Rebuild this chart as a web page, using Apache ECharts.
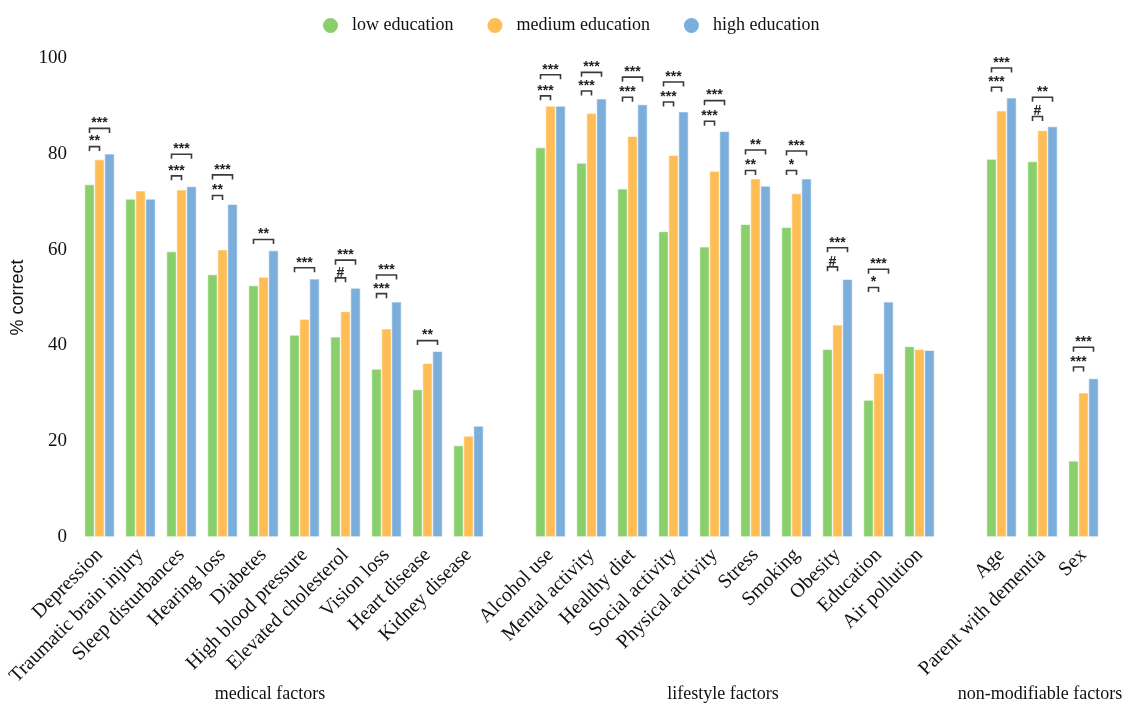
<!DOCTYPE html>
<html>
<head>
<meta charset="utf-8">
<script src="https://cdn.jsdelivr.net/npm/echarts@6/dist/echarts.min.js"></script>
<style>html,body{margin:0;padding:0;background:#fff;}#c{width:1129px;height:707px;}</style>
</head>
<body>
<div id="c"></div>
<script>
const categories = ['Depression','Traumatic brain injury','Sleep disturbances','Hearing loss','Diabetes','High blood pressure','Elevated cholesterol','Vision loss','Heart disease','Kidney disease',
  ' ',
  'Alcohol use','Mental activity','Healthy diet','Social activity','Physical activity','Stress','Smoking','Obesity','Education','Air pollution',
  '  ',
  'Age','Parent with dementia','Sex'];
const lowEdu =    [73.6,70.6,59.6,54.8,52.5,42.2,41.8,35.1,30.8,19.1,'-',81.3,78.1,72.7,63.8,60.6,65.3,64.7,39.2,28.6,39.8,'-',78.9,78.4,15.9];
const mediumEdu = [78.8,72.3,72.5,60.0,54.3,45.5,47.1,43.5,36.3,21.1,'-',90.0,88.5,83.7,79.7,76.4,74.8,71.7,44.3,34.2,39.2,'-',89.0,84.9,30.1];
const highEdu =   [80.0,70.6,73.2,69.5,59.8,53.9,52.0,49.1,38.8,23.2,'-',90.0,91.5,90.3,88.8,84.7,73.3,74.8,53.8,49.1,39.0,'-',91.7,85.7,33.1];
const yTicks = [0,20,40,60,80,100];
const groupTitles = ['medical factors','lifestyle factors','non-modifiable factors'];

// significance brackets: category, pair (lm = low-medium, lh = low-high), level, label
const bracketCats =   ['Depression','Depression','Sleep disturbances','Sleep disturbances','Hearing loss','Hearing loss','Diabetes','High blood pressure','Elevated cholesterol','Elevated cholesterol','Vision loss','Vision loss','Heart disease',
  'Alcohol use','Alcohol use','Mental activity','Mental activity','Healthy diet','Healthy diet','Social activity','Social activity','Physical activity','Physical activity','Stress','Stress','Smoking','Smoking','Obesity','Obesity','Education','Education',
  'Age','Age','Parent with dementia','Parent with dementia','Sex','Sex'];
const bracketPairs =  ['lm','lh','lm','lh','lm','lh','lh','lh','lm','lh','lm','lh','lh',
  'lm','lh','lm','lh','lm','lh','lm','lh','lm','lh','lm','lh','lm','lh','lm','lh','lm','lh',
  'lm','lh','lm','lh','lm','lh'];
const bracketLevels = [81.5,85.3,75.4,79.9,71.3,75.6,62.1,56.2,54.1,57.8,50.8,54.7,41.0,
  92.1,96.5,93.1,97.0,91.8,96.0,90.8,95.0,86.8,91.1,76.5,80.8,76.5,80.6,56.4,60.4,52.1,55.9,
  93.9,97.9,87.8,91.8,35.5,39.6];
const bracketLabels = ['**','***','***','***','**','***','**','***','#','***','***','***','**',
  '***','***','***','***','***','***','***','***','***','***','**','**','*','***','#','***','*','***',
  '***','***','#','**','***','***'];

const BAR_W = 10;
const chart = echarts.init(document.getElementById('c'), null, {renderer:'canvas'});
const serif = '"Liberation Serif", "Times New Roman", serif';

function renderBracket(params, api) {
  const i = params.dataIndex;
  const c = api.coord([api.value(0), api.value(1)]);
  const x1 = c[0] - BAR_W;
  const x2 = c[0] + (bracketPairs[i] === 'lh' ? BAR_W : 0);
  const y = c[1];
  const t = 4.5;
  return {
    type: 'group',
    children: [
      {type:'polyline', shape:{points:[[x1,y+t],[x1,y],[x2,y],[x2,y+t]]}, style:{stroke:'#3a3a3a', lineWidth:1.6, fill:null}},
      {type:'text', style:{text: bracketLabels[i], x:(x1+x2)/2, y:y+2, align:'center', verticalAlign:'bottom', font:'bold 14px "Liberation Sans"', fill:'#222'}}
    ]
  };
}

const option = {
  backgroundColor: '#fff',
  animation: false,
  legend: {
    data: ['low education','medium education','high education'],
    top: 11, left: 316,
    icon: 'circle', itemWidth: 17, itemHeight: 17, itemGap: 32,
    textStyle: {fontFamily: serif, fontSize: 18, color: '#111', padding: [0,0,0,8]}
  },
  grid: {left: 79, right: 25, top: 58, bottom: 170},
  xAxis: {
    type: 'category',
    data: categories,
    axisLine: {show: false},
    axisTick: {show: false},
    axisLabel: {interval: 0, rotate: 45, margin: 15, fontFamily: serif, fontSize: 20, color: '#111'}
  },
  yAxis: {
    type: 'value', min: 0, max: 100, interval: 20,
    name: '% correct', nameLocation: 'middle', nameGap: 52,
    nameTextStyle: {fontFamily: '"Liberation Sans", Arial, sans-serif', fontSize: 18, color: '#111'},
    axisLine: {show: false}, axisTick: {show: false}, splitLine: {show: false},
    axisLabel: {fontFamily: serif, fontSize: 19, color: '#111', margin: 12,
      formatter: v => yTicks.includes(v) ? String(v) : ''}
  },
  graphic: [
    {type:'text', style:{text: groupTitles[0], x: 270, y: 694, align:'center', verticalAlign:'middle', font:'18px ' + serif, fill:'#111'}},
    {type:'text', style:{text: groupTitles[1], x: 723, y: 694, align:'center', verticalAlign:'middle', font:'18px ' + serif, fill:'#111'}},
    {type:'text', style:{text: groupTitles[2], x: 1040, y: 694, align:'center', verticalAlign:'middle', font:'18px ' + serif, fill:'#111'}}
  ],
  series: [
    {name:'low education', type:'bar', data: lowEdu, barWidth: BAR_W, barGap: '0%', itemStyle:{color:'#89CF6C', borderColor:'#fff', borderWidth:0.6}},
    {name:'medium education', type:'bar', data: mediumEdu, barWidth: BAR_W, barGap: '0%', itemStyle:{color:'#FFBD55', borderColor:'#fff', borderWidth:0.6}},
    {name:'high education', type:'bar', data: highEdu, barWidth: BAR_W, barGap: '0%', itemStyle:{color:'#7BAEDB', borderColor:'#fff', borderWidth:0.6}},
    {name:'sig', type:'custom', renderItem: renderBracket, clip: false, z: 5,
      data: bracketCats.map((c, i) => [c, bracketLevels[i]])}
  ]
};
chart.setOption(option);
</script>
</body>
</html>
